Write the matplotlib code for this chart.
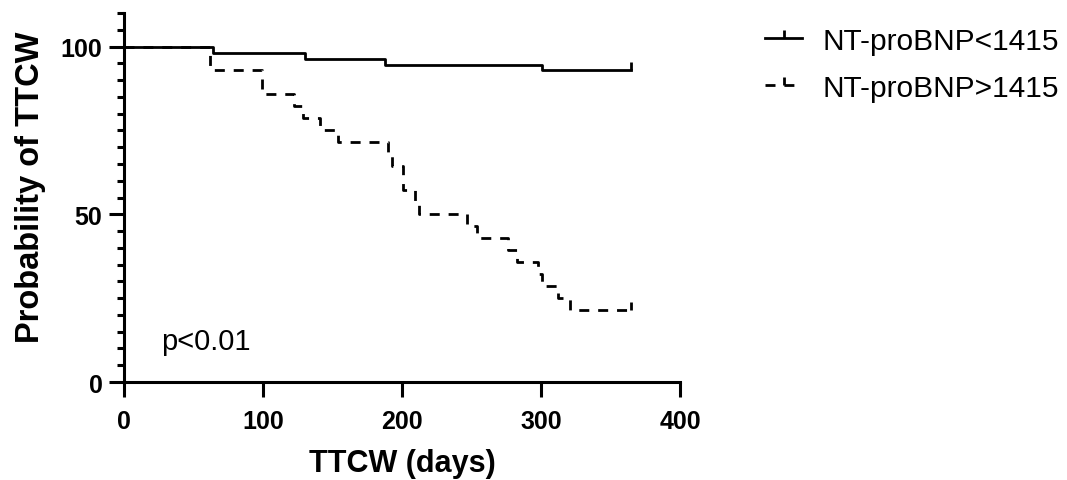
import matplotlib
matplotlib.use("Agg")
import matplotlib.pyplot as plt
from matplotlib.lines import Line2D

plt.rcParams['font.family'] = ['Liberation Sans', 'DejaVu Sans']

# survival curves (days, % event-free)
low_days = [0, 64, 130, 188, 301, 365]
low_surv = [100, 98.21, 96.43, 94.64, 92.86, 92.86]

high_days = [0, 62, 99, 122, 129, 141, 154, 190, 193, 201, 209, 212,
             247, 254, 276, 283, 298, 301, 312, 321, 365]
high_surv = [100, 92.86, 85.71, 82.14, 78.57, 75.0, 71.43, 67.86, 64.29, 57.14, 53.57, 50.0,
             46.43, 42.86, 39.29, 35.71, 32.14, 28.57, 25.0, 21.43, 21.43]

labels = ["NT-proBNP<1415", "NT-proBNP>1415"]
xticks = [0, 100, 200, 300, 400]
yticks = [0, 50, 100]

fig = plt.figure(figsize=(10.67, 4.81), dpi=100)
ax = fig.add_axes([0.1162, 0.2037, 0.5211, 0.7672])

lw = 2.0
dash = (3.6, 3.2)
ax.step(high_days, high_surv, where='post', color='black', lw=lw, linestyle=(0, dash), zorder=2)
ax.step(low_days, low_surv, where='post', color='black', lw=lw, zorder=3)
# censor marks at the end of follow-up
ax.plot([low_days[-1]], [low_surv[-1]], marker=2, color='black', markersize=6, mew=2, zorder=4)
ax.plot([high_days[-1]], [high_surv[-1]], marker=2, color='black', markersize=6, mew=2, zorder=4)

ax.set_xlim(0, 400)
ax.set_ylim(0, 110)
ax.set_xticks(xticks)
ax.set_yticks(yticks)
ax.set_yticks(range(0, 111, 5), minor=True)

for s in ['top', 'right']:
    ax.spines[s].set_visible(False)
for s in ['left', 'bottom']:
    ax.spines[s].set_linewidth(2.2)

ax.tick_params(axis='both', which='major', length=10.5, width=2.2, labelsize=18)
ax.tick_params(axis='x', which='major', pad=9)
ax.tick_params(axis='y', which='major', pad=5)
ax.tick_params(axis='y', which='minor', length=5, width=2.2)
for t in ax.get_xticklabels() + ax.get_yticklabels():
    t.set_fontweight('bold')

ax.set_xlabel("TTCW (days)", fontsize=22, fontweight='bold')
ax.set_ylabel("Probability of TTCW", fontsize=23.5, fontweight='bold')
ax.xaxis.label.set_va('center')
ax.yaxis.label.set_va('center')
ax.xaxis.set_label_coords(0.5, -0.22)
ax.yaxis.set_label_coords(-0.169, 0.53)

ax.text(0.066, 0.11, "p<0.01", transform=ax.transAxes, fontsize=21, va='center', ha='left')

handles = [
    Line2D([], [], color='black', lw=lw, marker=2, markersize=6, mew=2),
    Line2D([], [], color='black', lw=lw, linestyle=(0, dash), marker=2, markersize=6, mew=2),
]
fig.legend(handles, labels, loc='upper left', bbox_to_anchor=(0.692, 0.998), frameon=False,
           fontsize=21.5, numpoints=1, handlelength=1.24, handletextpad=0.67, labelspacing=0.63)

fig.savefig("out.png", dpi=100)
